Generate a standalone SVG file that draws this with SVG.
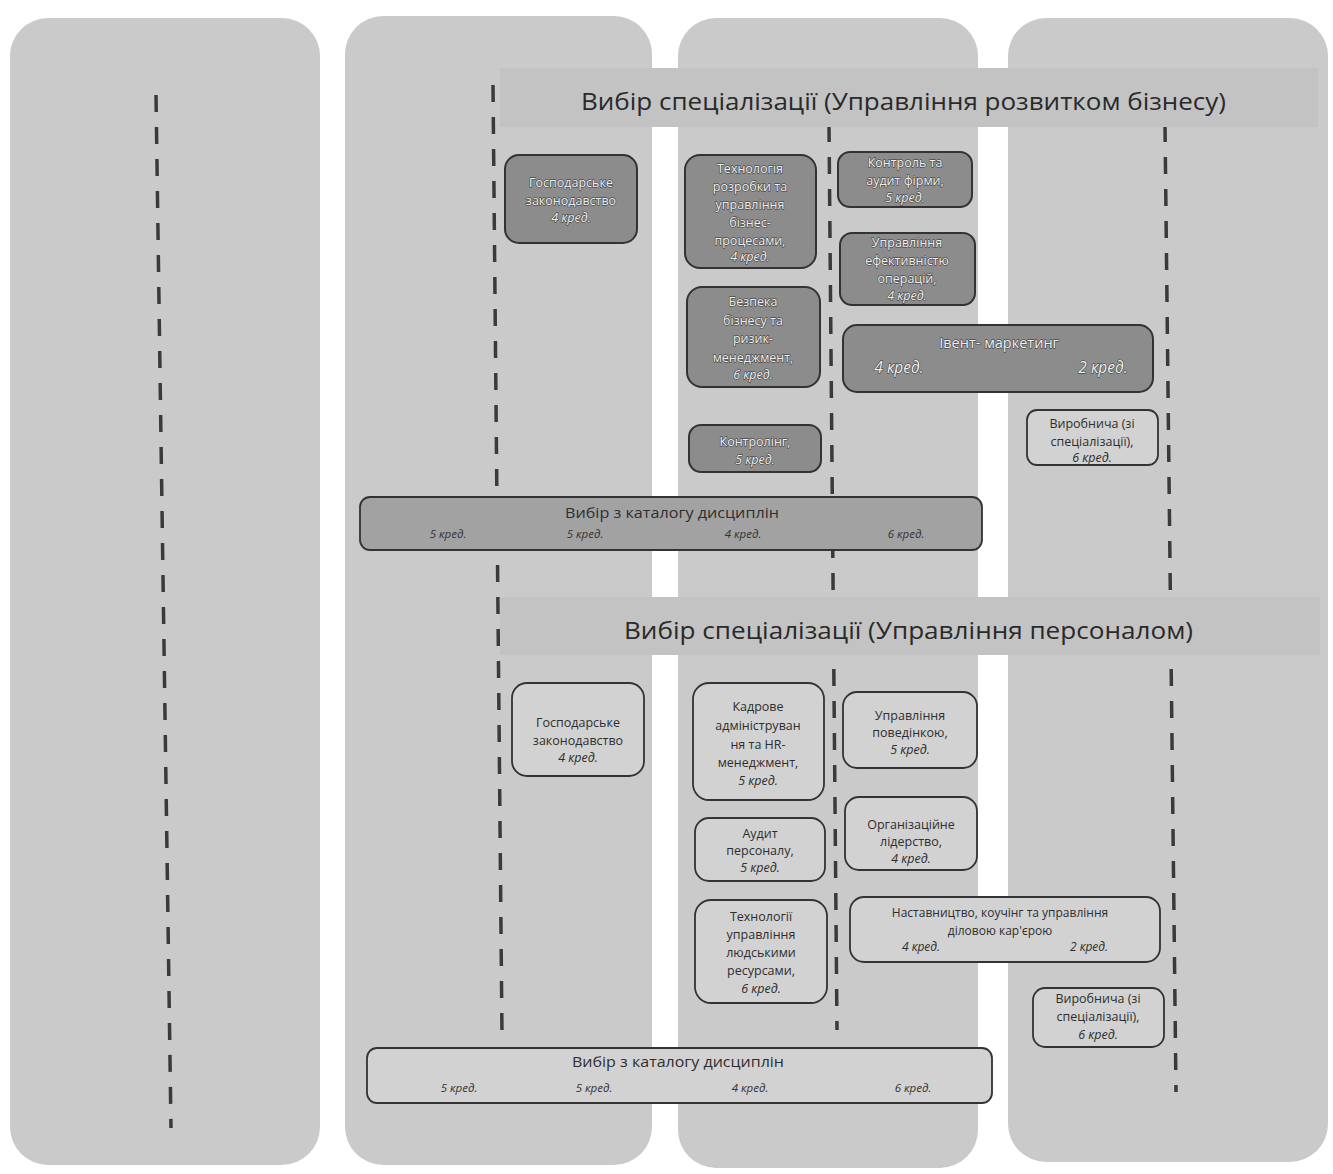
<svg xmlns="http://www.w3.org/2000/svg" width="1333" height="1174" viewBox="0 0 1333 1174">
<style>
.col{fill:#cacaca}
.band{fill:#c3c3c3}
.dash{stroke:#3a3a3a;stroke-width:3.5;stroke-dasharray:17 15;fill:none}
.dk{fill:#8c8c8c;stroke:#333;stroke-width:2}
.lt{fill:#d2d2d2;stroke:#333;stroke-width:1.8}
.md{fill:#a2a2a2;stroke:#333;stroke-width:1.8}
text{font-family:"Open Sans","Noto Sans","Liberation Sans",sans-serif;text-anchor:middle}
.s{font-size:12.5px}
.w{fill:#f0f0f0;stroke:#4a4a4a;stroke-width:1.3;paint-order:stroke;stroke-linejoin:round}
.d{fill:#2e2e2e}
.i{font-style:italic}
.h{font-size:24px;fill:#2a2a2a;text-anchor:start}
.c{font-size:14px;fill:#2e2e2e}
.ck{font-size:11.5px;font-style:italic;fill:#333}
</style>
<rect width="1333" height="1174" fill="#ffffff"/>
<g id="columns">
<rect class="col" x="10" y="18" width="310" height="1147" rx="38"/>
<rect class="col" x="345" y="16" width="307" height="1149" rx="38"/>
<rect class="col" x="678" y="18" width="300" height="1150" rx="38"/>
<rect class="col" x="1008" y="18" width="320" height="1144" rx="38"/>
</g>
<g id="connectors">
<line class="dash" x1="156" y1="95" x2="171" y2="1128"/>
<line class="dash" x1="493" y1="85" x2="502" y2="1035"/>
<line class="dash" x1="829" y1="125" x2="837" y2="1030"/>
<line class="dash" x1="1165" y1="125" x2="1176" y2="1092"/>
</g>
<g id="header1">
<rect class="band" x="500" y="68" width="818" height="59"/>
<text class="h" x="581" y="110" textLength="645" lengthAdjust="spacingAndGlyphs">Вибір спеціалізації (Управління розвитком бізнесу)</text>
</g>
<g id="header2">
<rect class="band" x="500" y="597" width="820" height="58"/>
<text class="h" x="624" y="639" textLength="569" lengthAdjust="spacingAndGlyphs">Вибір спеціалізації (Управління персоналом)</text>
</g>
<g id="n-gosp1">
<rect class="dk" x="505" y="155" width="132" height="88" rx="14"/>
<text class="s w" x="571" y="187">Господарське</text>
<text class="s w" x="571" y="205">законодавство</text>
<text class="s w i" x="571" y="222">4 кред.</text>
</g>
<g id="n-tech">
<rect class="dk" x="685" y="155" width="131" height="113" rx="15"/>
<text class="s w" x="750" y="173">Технологія</text>
<text class="s w" x="750" y="191">розробки та</text>
<text class="s w" x="750" y="209">управління</text>
<text class="s w" x="750" y="227">бізнес-</text>
<text class="s w" x="750" y="245">процесами,</text>
<text class="s w i" x="750" y="261">4 кред.</text>
</g>
<g id="n-bezp">
<rect class="dk" x="687" y="287" width="133" height="100" rx="15"/>
<text class="s w" x="753" y="306">Безпека</text>
<text class="s w" x="753" y="325">бізнесу та</text>
<text class="s w" x="753" y="343">ризик-</text>
<text class="s w" x="753" y="362">менеджмент,</text>
<text class="s w i" x="753" y="379">6 кред.</text>
</g>
<g id="n-kontroling">
<rect class="dk" x="689" y="425" width="132" height="47" rx="12"/>
<text class="s w" x="755" y="446">Контролінг,</text>
<text class="s w i" x="755" y="464">5 кред.</text>
</g>
<g id="n-audit-firm">
<rect class="dk" x="838" y="152" width="134" height="55" rx="12"/>
<text class="s w" x="905" y="167">Контроль та</text>
<text class="s w" x="905" y="185">аудит фірми,</text>
<text class="s w i" x="905" y="202">5 кред.</text>
</g>
<g id="n-efekt">
<rect class="dk" x="840" y="233" width="135" height="72" rx="12"/>
<text class="s w" x="907" y="247">Управління</text>
<text class="s w" x="907" y="265">ефективністю</text>
<text class="s w" x="907" y="283">операцій,</text>
<text class="s w i" x="907" y="300">4 кред.</text>
</g>
<g id="n-event">
<rect class="dk" x="843" y="325" width="310" height="67" rx="14"/>
<text class="w" x="999" y="348" style="font-size:14.5px">Івент- маркетинг</text>
<text class="w i" x="899" y="373" style="font-size:15.5px">4 кред.</text>
<text class="w i" x="1103" y="373" style="font-size:15.5px">2 кред.</text>
</g>
<g id="n-vyrob1">
<rect class="lt" x="1027" y="410" width="131" height="55" rx="10"/>
<text class="s d" x="1092" y="428">Виробнича (зі</text>
<text class="s d" x="1092" y="446">спеціалізації),</text>
<text class="s d i" x="1092" y="462">6 кред.</text>
</g>
<g id="n-catalog1">
<rect class="md" x="360" y="497" width="622" height="53" rx="10"/>
<text class="c" x="672" y="518" textLength="214" lengthAdjust="spacingAndGlyphs">Вибір з каталогу дисциплін</text>
<text class="ck" x="448" y="538">5 кред.</text>
<text class="ck" x="585" y="538">5 кред.</text>
<text class="ck" x="743" y="538">4 кред.</text>
<text class="ck" x="906" y="538">6 кред.</text>
</g>
<g id="n-gosp2">
<rect class="lt" x="512" y="683" width="132" height="93" rx="15"/>
<text class="s d" x="578" y="727">Господарське</text>
<text class="s d" x="578" y="745">законодавство</text>
<text class="s d i" x="578" y="762">4 кред.</text>
</g>
<g id="n-kadr">
<rect class="lt" x="693" y="683" width="131" height="117" rx="16"/>
<text class="s d" x="758" y="711">Кадрове</text>
<text class="s d" x="758" y="730">адмініструван</text>
<text class="s d" x="758" y="749">ня та HR-</text>
<text class="s d" x="758" y="767">менеджмент,</text>
<text class="s d i" x="758" y="785">5 кред.</text>
</g>
<g id="n-audit-pers">
<rect class="lt" x="695" y="818" width="130" height="63" rx="14"/>
<text class="s d" x="760" y="838">Аудит</text>
<text class="s d" x="760" y="855">персоналу,</text>
<text class="s d i" x="760" y="872">5 кред.</text>
</g>
<g id="n-tech-hr">
<rect class="lt" x="695" y="900" width="132" height="103" rx="16"/>
<text class="s d" x="761" y="921">Технології</text>
<text class="s d" x="761" y="939">управління</text>
<text class="s d" x="761" y="957">людськими</text>
<text class="s d" x="761" y="975">ресурсами,</text>
<text class="s d i" x="761" y="993">6 кред.</text>
</g>
<g id="n-povedinka">
<rect class="lt" x="843" y="692" width="134" height="76" rx="14"/>
<text class="s d" x="910" y="720">Управління</text>
<text class="s d" x="910" y="737">поведінкою,</text>
<text class="s d i" x="910" y="754">5 кред.</text>
</g>
<g id="n-lider">
<rect class="lt" x="845" y="797" width="132" height="73" rx="14"/>
<text class="s d" x="911" y="829">Організаційне</text>
<text class="s d" x="911" y="846">лідерство,</text>
<text class="s d i" x="911" y="863">4 кред.</text>
</g>
<g id="n-nastav">
<rect class="lt" x="850" y="897" width="310" height="65" rx="14"/>
<text class="d" x="1000" y="917" style="font-size:12px">Наставництво, коучінг та управління</text>
<text class="d" x="1000" y="935" style="font-size:12px">діловою кар'єрою</text>
<text class="d i" x="921" y="951" style="font-size:12px">4 кред.</text>
<text class="d i" x="1089" y="951" style="font-size:12px">2 кред.</text>
</g>
<g id="n-vyrob2">
<rect class="lt" x="1033" y="988" width="131" height="59" rx="12"/>
<text class="s d" x="1098" y="1003">Виробнича (зі</text>
<text class="s d" x="1098" y="1021">спеціалізації),</text>
<text class="s d i" x="1098" y="1039">6 кред.</text>
</g>
<g id="n-catalog2">
<rect class="lt" x="367" y="1048" width="625" height="55" rx="10"/>
<text class="c" x="678" y="1067" textLength="212" lengthAdjust="spacingAndGlyphs">Вибір з каталогу дисциплін</text>
<text class="ck" x="459" y="1092">5 кред.</text>
<text class="ck" x="594" y="1092">5 кред.</text>
<text class="ck" x="750" y="1092">4 кред.</text>
<text class="ck" x="913" y="1092">6 кред.</text>
</g>
</svg>
